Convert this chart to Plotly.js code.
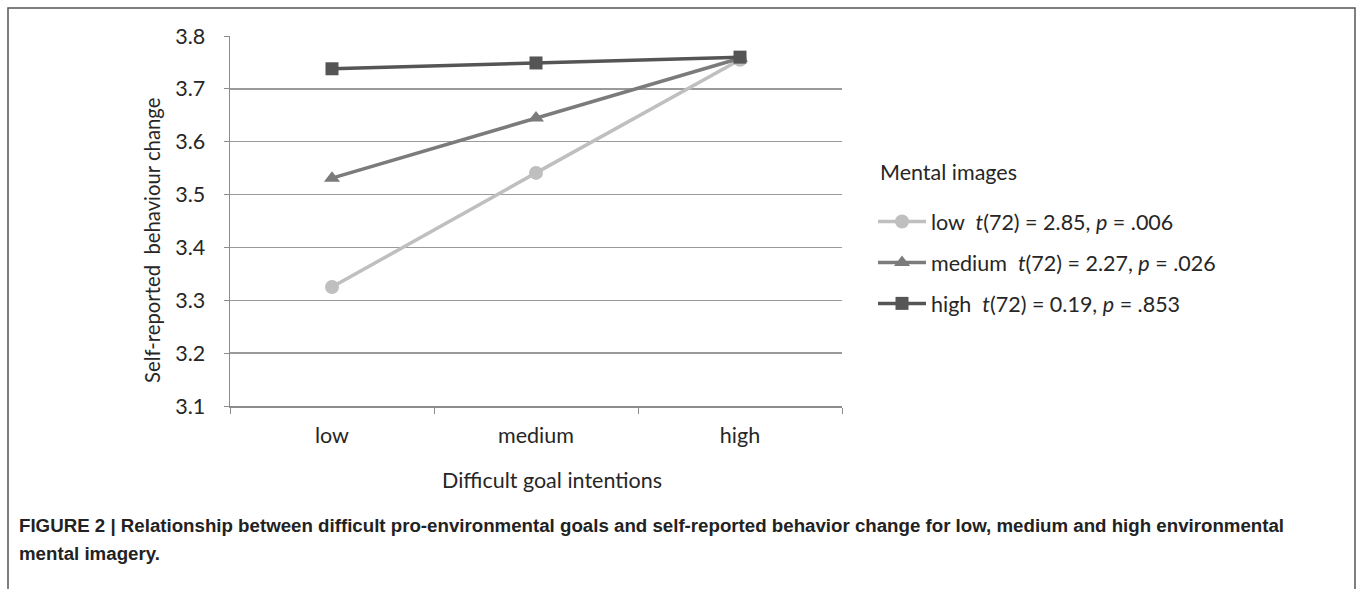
<!DOCTYPE html>
<html>
<head>
<meta charset="utf-8">
<script src="https://cdn.plot.ly/plotly-3.0.1.min.js"></script>
<style>
  html, body { margin: 0; padding: 0; background: #fff; }
  #chart { width: 1357px; height: 589px; }
</style>
</head>
<body>
<div id="chart"></div>
<script>
// Data
const categories = ["low", "medium", "high"];
const lowValues = [3.325, 3.541, 3.755];
const mediumValues = [3.531, 3.645, 3.758];
const highValues = [3.738, 3.749, 3.760];
const seriesNames = [
  "low  <i>t</i>(72) = 2.85, <i>p</i> = .006",
  "medium  <i>t</i>(72) = 2.27, <i>p</i> = .026",
  "high  <i>t</i>(72) = 0.19, <i>p</i> = .853"
];
const yTicks = [3.1, 3.2, 3.3, 3.4, 3.5, 3.6, 3.7, 3.8];
const legendTitle = "Mental images";
const xTitle = "Difficult goal intentions";
const yTitle = "Self-reported  behaviour change";

const FONT = "Lato, 'Open Sans', sans-serif";
const TXT = "#262626";

const traces = [
  {x: categories, y: lowValues, name: seriesNames[0], legendgroup: "a", mode: "lines+markers",
   line: {color: "#bfbfbf", width: 3.5}, marker: {symbol: "circle", size: 14, color: "#bfbfbf"}},
  {x: categories, y: mediumValues, name: seriesNames[1], legendgroup: "b", mode: "lines+markers",
   line: {color: "#7b7b7b", width: 3.5}, marker: {symbol: "triangle-up", size: 14, color: "#7b7b7b"}},
  {x: categories, y: highValues, name: seriesNames[2], legendgroup: "c", mode: "lines+markers",
   line: {color: "#555555", width: 3.5}, marker: {symbol: "square", size: 13, color: "#555555"}}
];

const L = 230, R = 842, T = 36, B = 406;
const W = 1357, H = 589;
const px = v => (v - L) / (R - L);
const py = v => (B - v) / (B - T);

const layout = {
  width: W, height: H,
  margin: {l: L, r: W - R, t: T, b: H - B, pad: 0},
  paper_bgcolor: "#ffffff",
  plot_bgcolor: "#ffffff",
  font: {family: FONT, size: 21, color: TXT},
  showlegend: true,
  legend: {
    x: px(873), xanchor: "left", y: py(201), yanchor: "top",
    font: {family: FONT, size: 21.5, color: TXT},
    tracegroupgap: 10,
    bgcolor: "rgba(0,0,0,0)",
    itemwidth: 48
  },
  xaxis: {
    type: "category",
    categoryorder: "array", categoryarray: categories,
    range: [-0.5, 2.5],
    showline: true, linecolor: "#8c8c8c", linewidth: 1.5,
    ticks: "outside", tickson: "boundaries", ticklen: 6, tickcolor: "#8c8c8c",
    ticklabelstandoff: 10,
    showgrid: false, zeroline: false,
    tickfont: {family: FONT, size: 21.5, color: TXT}
  },
  yaxis: {
    range: [3.1, 3.8],
    tickvals: yTicks, ticktext: yTicks.map(v => v.toFixed(1)),
    showline: true, linecolor: "#8c8c8c", linewidth: 1.5,
    ticks: "outside", ticklen: 5, tickcolor: "#8c8c8c",
    ticklabelstandoff: 14,
    showgrid: true, gridcolor: "#9a9a9a", gridwidth: 1.5,
    zeroline: false,
    tickfont: {family: FONT, size: 21.5, color: TXT}
  },
  shapes: [
    {type: "rect", xref: "paper", yref: "paper",
     x0: px(8), x1: px(1355), y0: py(600), y1: py(8),
     line: {color: "#555", width: 1.5}, fillcolor: "rgba(0,0,0,0)", layer: "below"}
  ],
  annotations: [
    {xref: "paper", yref: "paper", x: px(152), y: py(241), xanchor: "center", yanchor: "middle",
     textangle: -90, showarrow: false, text: yTitle,
     font: {family: FONT, size: 20.3, color: TXT}},
    {xref: "paper", yref: "paper", x: px(552), y: py(480), xanchor: "center", yanchor: "middle",
     showarrow: false, text: xTitle,
     font: {family: FONT, size: 21.5, color: TXT}},
    {xref: "paper", yref: "paper", x: px(878), y: py(172), xanchor: "left", yanchor: "middle",
     showarrow: false, text: legendTitle,
     font: {family: FONT, size: 21.5, color: TXT}},
    {xref: "paper", yref: "paper", x: px(17), y: py(525), xanchor: "left", yanchor: "middle",
     showarrow: false, align: "left",
     text: "<b>FIGURE 2 | Relationship between difficult pro-environmental goals and self-reported behavior change for low, medium and high environmental</b>",
     font: {family: "'Liberation Sans', Arial, sans-serif", size: 18.7, color: "#222"}},
    {xref: "paper", yref: "paper", x: px(17), y: py(553), xanchor: "left", yanchor: "middle",
     showarrow: false, align: "left",
     text: "<b>mental imagery.</b>",
     font: {family: "'Liberation Sans', Arial, sans-serif", size: 18.7, color: "#222"}}
  ]
};

Plotly.newPlot("chart", traces, layout, {staticPlot: true, displayModeBar: false});
</script>
</body>
</html>
